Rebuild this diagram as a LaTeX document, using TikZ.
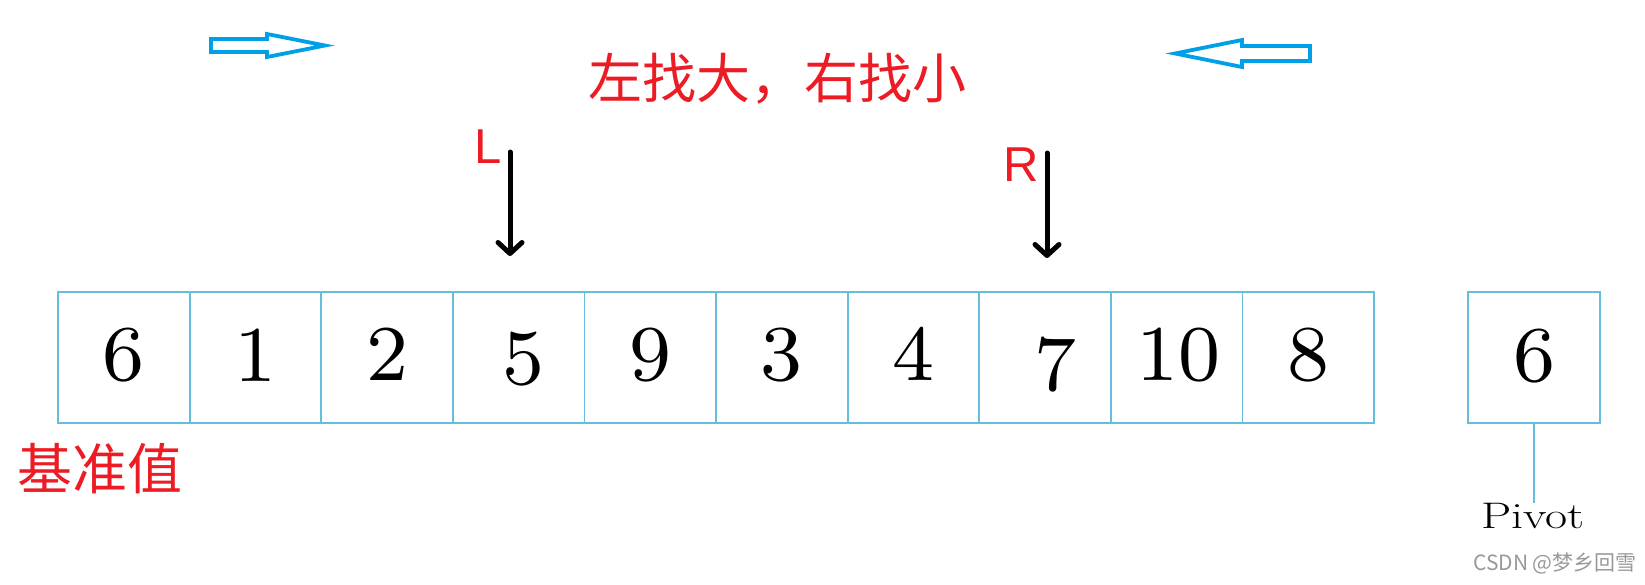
\documentclass[tikz,border=0pt]{standalone}
\usepackage{fontspec}
\newfontfamily\cjk{Noto Sans CJK SC}
\newfontfamily\lsans{Liberation Sans}
\newfontfamily\dfont{lmroman8-regular.otf}
\usetikzlibrary{arrows.meta}
\definecolor{cellblue}{RGB}{100,190,222}
\definecolor{arrowblue}{RGB}{0,160,233}
\definecolor{redtxt}{RGB}{237,28,36}
\tikzset{
  cell/.style={draw=cellblue, line width=1.8pt, minimum width=131.6pt, minimum height=131pt, inner sep=0pt, outer sep=0pt},
  digit/.style={anchor=base, inner sep=0pt, font=\dfont\fontsize{79}{79}\selectfont},
  redcjk/.style={text=redtxt, inner sep=0pt, font=\cjk\fontsize{54}{54}\selectfont},
  ptrlabel/.style={anchor=base, inner sep=0pt, text=redtxt, font=\lsans\fontsize{49}{49}\selectfont},
  ptr/.style={draw=black, line width=5pt, line cap=round, -{Straight Barb[length=11pt,width=24pt,round]}},
  hollowarrow/.style={draw=arrowblue, line width=3.8pt, line join=miter},
  pivotline/.style={draw=cellblue, line width=1.6pt}
}
\begin{document}
\begin{tikzpicture}[x=1pt,y=-1pt]
\useasboundingbox[fill=white] (0,0) rectangle (1645,584);
% hollow blue arrows
\draw[hollowarrow] (211,39) -- (267,39) -- (267,34) -- (325,45.5) -- (267,57) -- (267,52) -- (211,52) -- cycle;
\draw[hollowarrow] (1310,46) -- (1242,46) -- (1242,40) -- (1175,53.5) -- (1242,67) -- (1242,61) -- (1310,61) -- cycle;
% title
\node[redcjk] (title) at (777.5,79) {左找大，右找小};
% cells
\node[cell] (c0) at (123.8,357.5) {};
\node[cell] (c1) at (255.4,357.5) {};
\node[cell] (c2) at (387.0,357.5) {};
\node[cell] (c3) at (518.6,357.5) {};
\node[cell] (c4) at (650.2,357.5) {};
\node[cell] (c5) at (781.8,357.5) {};
\node[cell] (c6) at (913.4,357.5) {};
\node[cell] (c7) at (1045.0,357.5) {};
\node[cell] (c8) at (1176.6,357.5) {};
\node[cell] (c9) at (1308.2,357.5) {};
\node[cell] (pv) at (1534,357.5) {};
% digits
\node[digit] (d0) at ([yshift=-22.5pt]c0.center) {6};
\node[digit] (d1) at ([yshift=-23.5pt]c1.center) {1};
\node[digit] (d2) at ([yshift=-22.5pt]c2.center) {2};
\node[digit] (d3) at ([xshift=5pt,yshift=-26.5pt]c3.center) {5};
\node[digit] (d4) at ([yshift=-22.5pt]c4.center) {9};
\node[digit] (d5) at ([yshift=-22.5pt]c5.center) {3};
\node[digit] (d6) at ([yshift=-22.5pt]c6.center) {4};
\node[digit] (d7) at ([xshift=10pt,yshift=-32.5pt]c7.center) {7};
\node[digit] (d8) at ([xshift=2pt,yshift=-22.5pt]c8.center) {10};
\node[digit] (d9) at ([yshift=-22.5pt]c9.center) {8};
\node[digit] (pd) at ([yshift=-23.5pt]pv.center) {6};
% pointers
\node[ptrlabel] (lL) at (488.5,163) {L};
\node[ptrlabel] (lR) at (1021,181) {R};
\coordinate (ltop) at (510,152);
\coordinate (lbot) at (510,256);
\coordinate (rtop) at (1047,153);
\coordinate (rbot) at (1047,258);
\draw[ptr] (ltop) -- (lbot);
\draw[ptr] (rtop) -- (rbot);
% labels
\node[redcjk, font=\cjk\fontsize{55}{55}\selectfont] (base) at (100,469) {基准值};
\node[anchor=base, inner sep=0pt, font=\fontsize{37}{37}\selectfont] (pvl) at (1533,528) {\scalebox{1.3}[1]{Pivot}};
\draw[pivotline] (pv.south) -- (pv.south |- pvl.north);
\node[inner sep=0pt, text=black!40, font=\cjk\fontsize{21}{21}\selectfont] (wm) at (1555,563) {CSDN @梦乡回雪};
\end{tikzpicture}
\end{document}
